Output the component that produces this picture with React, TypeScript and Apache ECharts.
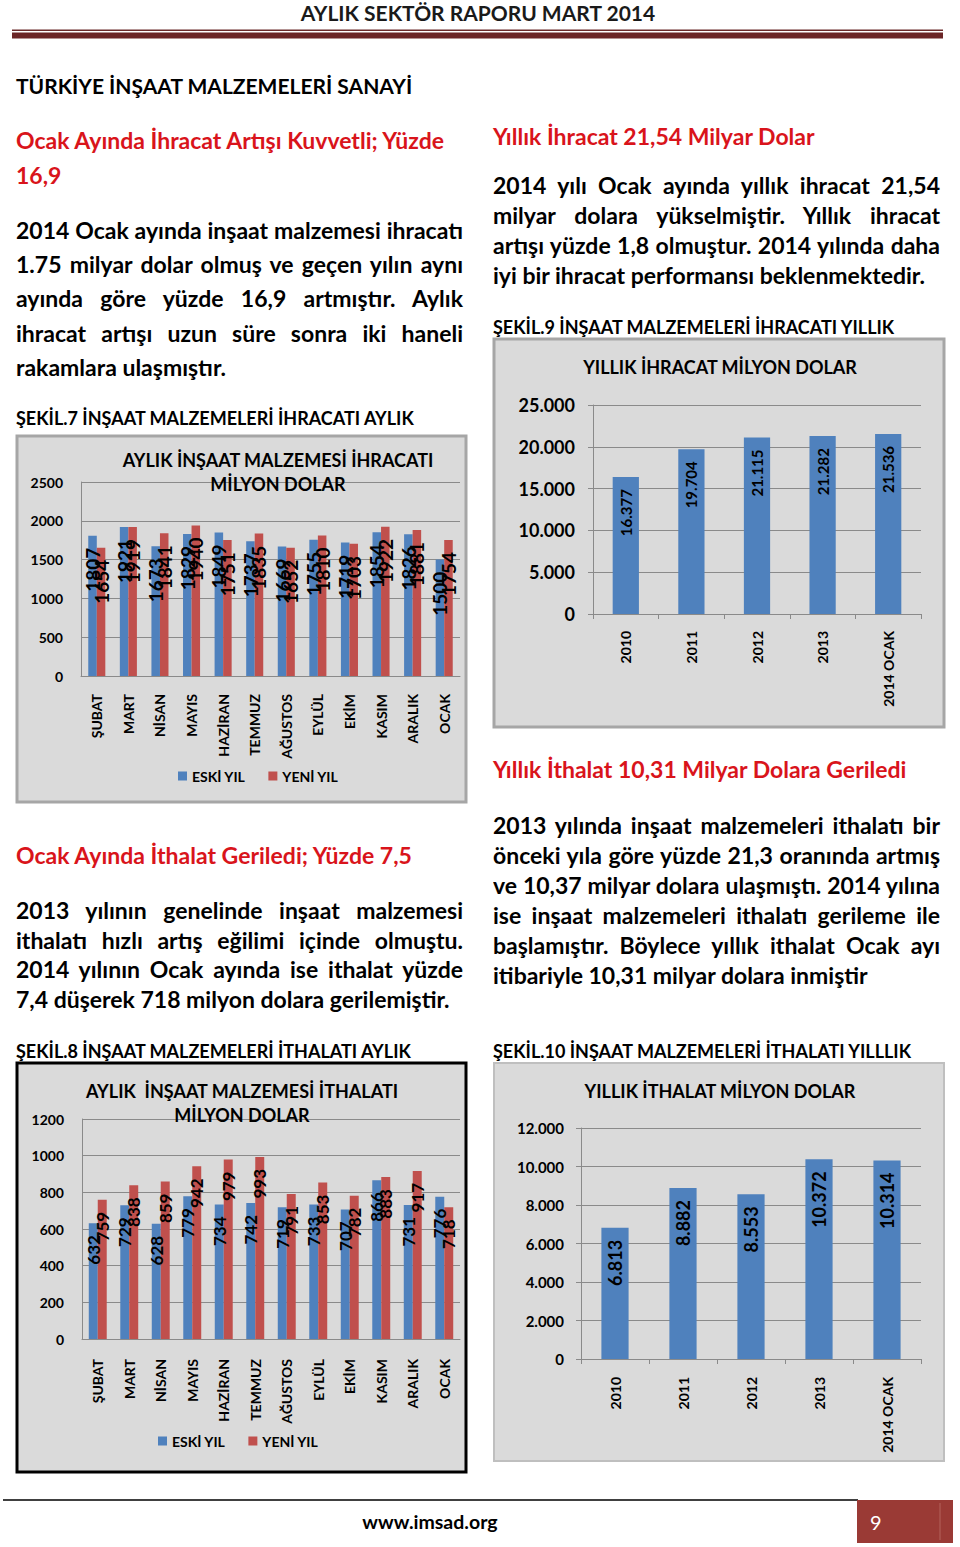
import React, { useEffect, useRef } from "react";
import * as echarts from "echarts";

// ---------- DATA ----------
const months = ["ŞUBAT", "MART", "NİSAN", "MAYIS", "HAZİRAN", "TEMMUZ", "AĞUSTOS", "EYLÜL", "EKİM", "KASIM", "ARALIK", "OCAK"];
const exportOld = [1807, 1921, 1673, 1829, 1849, 1737, 1669, 1755, 1719, 1854, 1826, 1500];
const exportNew = [1654, 1919, 1841, 1940, 1751, 1835, 1652, 1810, 1703, 1922, 1881, 1754];
const importOld = [632, 729, 628, 779, 734, 742, 719, 733, 707, 866, 731, 776];
const importNew = [759, 838, 859, 942, 979, 993, 791, 853, 782, 883, 917, 718];
const years = ["2010", "2011", "2012", "2013", "2014 OCAK"];
const annualExport = [16377, 19704, 21115, 21282, 21536];
const annualImport = [6813, 8882, 8553, 10372, 10314];
const legendNames = ["ESKİ YIL", "YENİ YIL"];

// ---------- PAGE TEXT ----------
const para1 = [
  "2014 Ocak ayında inşaat malzemesi ihracatı",
  "1.75 milyar dolar olmuş ve geçen yılın aynı",
  "ayında göre yüzde 16,9 artmıştır. Aylık",
  "ihracat artışı uzun süre sonra iki haneli",
  "rakamlara ulaşmıştır.",
];
const para2 = [
  "2014 yılı Ocak ayında yıllık ihracat 21,54",
  "milyar dolara yükselmiştir. Yıllık ihracat",
  "artışı yüzde 1,8 olmuştur. 2014 yılında daha",
  "iyi bir ihracat performansı beklenmektedir.",
];
const para3 = [
  "2013 yılının genelinde inşaat malzemesi",
  "ithalatı hızlı artış eğilimi içinde olmuştu.",
  "2014 yılının Ocak ayında ise ithalat yüzde",
  "7,4 düşerek 718 milyon dolara gerilemiştir.",
];
const para4 = [
  "2013 yılında inşaat malzemeleri ithalatı bir",
  "önceki yıla göre yüzde 21,3 oranında artmış",
  "ve 10,37 milyar dolara ulaşmıştı. 2014 yılına",
  "ise inşaat malzemeleri ithalatı gerileme ile",
  "başlamıştır. Böylece yıllık ithalat Ocak ayı",
  "itibariyle 10,31 milyar dolara inmiştir",
];

const BLUE = "#4f81bd";
const RED = "#c0504d";
const GRIDC = "#8a8a8a";
const HEAD_RED = "#d9141b";
const FONT = "Lato, sans-serif";

const fmt = (v: number) => String(v).replace(/\B(?=(\d{3})+(?!\d))/g, ".");

let measureCtx: CanvasRenderingContext2D | null = null;
const measure = (text: string, size: number, weight: number) => {
  if (!measureCtx) measureCtx = document.createElement("canvas").getContext("2d");
  if (!measureCtx) return 0;
  measureCtx.font = `${weight} ${size}px Lato`;
  return measureCtx.measureText(text).width;
};

const valueAxis = (gi: number, max: number, interval: number, fontSize: number, margin: number, ticks: boolean, dots: boolean) => ({
  type: "value",
  gridIndex: gi,
  min: 0,
  max,
  interval,
  axisLine: { show: true, lineStyle: { color: GRIDC } },
  axisTick: { show: ticks, length: 5, lineStyle: { color: GRIDC } },
  splitLine: { show: true, lineStyle: { color: GRIDC, width: 1 } },
  axisLabel: {
    fontSize,
    fontWeight: "bold",
    color: "#000",
    fontFamily: FONT,
    margin,
    formatter: dots ? (v: number) => fmt(v) : (v: number) => String(v),
  },
});

const catAxis = (gi: number, data: string[], fontSize: number, margin: number, ticks: boolean) => ({
  type: "category",
  gridIndex: gi,
  data,
  axisLine: { show: true, lineStyle: { color: GRIDC } },
  axisTick: { show: ticks, length: 5, lineStyle: { color: GRIDC } },
  axisLabel: { rotate: 90, interval: 0, fontSize, fontWeight: "bold", color: "#000", fontFamily: FONT, margin },
});

const barLabel = (fontSize: number, dots: boolean) => ({
  show: true,
  position: "insideTop",
  rotate: 90,
  align: "right",
  verticalAlign: "middle",
  distance: 12,
  fontSize,
  fontWeight: "bold",
  fontFamily: FONT,
  color: "#000",
  formatter: (p: any) => (dots ? fmt(p.value) : String(p.value)),
});

const titleText = (text: string, x: number, y: number, size = 18) => ({
  type: "text",
  x,
  y,
  z: 5,
  style: { text, align: "center", verticalAlign: "middle", fontSize: size, fontWeight: "bold", fontFamily: FONT, fill: "#000" },
});

const box = (x: number, y: number, w: number, h: number, stroke: string, lw: number) => ({
  type: "rect",
  z: -10,
  shape: { x, y, width: w, height: h },
  style: { fill: "#dadada", stroke, lineWidth: lw },
});

function buildOption() {
  const legendStyle = {
    itemWidth: 9,
    itemHeight: 9,
    itemGap: 23,
    icon: "rect",
    padding: 0,
    textStyle: { fontSize: 14, fontWeight: "bold", color: "#000", fontFamily: FONT },
  };
  return {
    animation: false,
    textStyle: { fontFamily: FONT },
    graphic: [
      { type: "rect", z: -10, shape: { x: 12, y: 29.5, width: 931, height: 1.5 }, style: { fill: "#6b2a2a" } },
      { type: "rect", z: -10, shape: { x: 12, y: 32.5, width: 931, height: 6 }, style: { fill: "#6b2526" } },
      box(17, 436, 449, 366, "#a6a6a6", 3),
      box(494, 339, 450, 388, "#a6a6a6", 3),
      box(17, 1063, 449, 409, "#000000", 3),
      box(494, 1063, 450, 398, "#bfbfbf", 2),
      titleText("AYLIK İNŞAAT MALZEMESİ İHRACATI", 278, 460),
      titleText("MİLYON DOLAR", 278, 484),
      titleText("YILLIK İHRACAT MİLYON DOLAR", 720, 367),
      titleText("AYLIK  İNŞAAT MALZEMESİ İTHALATI", 242, 1091),
      titleText("MİLYON DOLAR", 242, 1115),
      titleText("YILLIK İTHALAT MİLYON DOLAR", 720, 1091),
      { type: "line", z: -10, shape: { x1: 3, y1: 1500, x2: 858, y2: 1500 }, style: { stroke: "#000", lineWidth: 1.5 } },
      { type: "rect", z: -10, shape: { x: 857, y: 1500, width: 96, height: 43 }, style: { fill: "#9a3a35" } },
      { type: "line", z: -9, shape: { x1: 940, y1: 1503, x2: 940, y2: 1540 }, style: { stroke: "#b3625d", lineWidth: 1 } },
    ],
    legend: [
      { ...legendStyle, data: legendNames, left: 178, top: 769 },
      { ...legendStyle, data: legendNames, left: 158, top: 1434 },
    ],
    grid: [
      { left: 81, top: 482, width: 379, height: 194 },
      { left: 593, top: 405, width: 328, height: 209 },
      { left: 82, top: 1119, width: 378, height: 220 },
      { left: 581, top: 1128, width: 340, height: 231 },
    ],
    xAxis: [
      catAxis(0, months, 14, 18, false),
      catAxis(1, years, 14, 17, true),
      catAxis(2, months, 14, 20, false),
      catAxis(3, years, 14, 18, true),
    ],
    yAxis: [
      valueAxis(0, 2500, 500, 14, 18, false, false),
      valueAxis(1, 25000, 5000, 18, 18, true, true),
      valueAxis(2, 1200, 200, 14, 18, false, false),
      valueAxis(3, 12000, 2000, 15, 17, true, true),
    ],
    series: [
      {
        name: legendNames[0], type: "bar", xAxisIndex: 0, yAxisIndex: 0, data: exportOld,
        itemStyle: { color: BLUE }, barGap: "0%", barCategoryGap: "46%", label: barLabel(19, false),
      },
      {
        name: legendNames[1], type: "bar", xAxisIndex: 0, yAxisIndex: 0, data: exportNew,
        itemStyle: { color: RED }, barGap: "0%", barCategoryGap: "46%", label: barLabel(19, false),
      },
      {
        name: "YILLIK İHRACAT", type: "bar", xAxisIndex: 1, yAxisIndex: 1, data: annualExport,
        itemStyle: { color: BLUE }, barCategoryGap: "60%", label: barLabel(15, true),
      },
      {
        name: legendNames[0], type: "bar", xAxisIndex: 2, yAxisIndex: 2, data: importOld,
        itemStyle: { color: BLUE }, barGap: "0%", barCategoryGap: "43%", label: barLabel(17, false),
      },
      {
        name: legendNames[1], type: "bar", xAxisIndex: 2, yAxisIndex: 2, data: importNew,
        itemStyle: { color: RED }, barGap: "0%", barCategoryGap: "43%", label: barLabel(17, false),
      },
      {
        name: "YILLIK İTHALAT", type: "bar", xAxisIndex: 3, yAxisIndex: 3, data: annualImport,
        itemStyle: { color: BLUE }, barCategoryGap: "60%", label: barLabel(18, true),
      },
    ],
  };
}

type LineProps = { x: number; y: number; w: number; text: string; size?: number; justify?: boolean; color?: string; lh?: number; weight?: number; align?: "left" | "center" };
const Line = ({ x, y, w, text, size = 23, justify = false, color = "#000", lh = 30, weight = 700, align = "left" }: LineProps) => {
  const nat = measure(text, size, weight);
  const squeeze = nat > w - 1;
  return (
    <div
      style={{
        position: "absolute",
        left: x,
        top: y - lh / 2,
        width: squeeze ? nat + 1 : w,
        height: lh,
        lineHeight: lh + "px",
        fontSize: size,
        fontWeight: weight,
        color,
        whiteSpace: "nowrap",
        textAlign: justify ? "justify" : align,
        textAlignLast: justify ? "justify" : align,
        transform: squeeze ? `scaleX(${(w - 1) / nat})` : undefined,
        transformOrigin: "left center",
      } as React.CSSProperties}
    >
      {text}
    </div>
  );
};

const Para = ({ x, y0, step, w, lines }: { x: number; y0: number; step: number; w: number; lines: string[] }) => (
  <>
    {lines.map((t, i) => (
      <Line key={i} x={x} y={y0 + i * step} w={w} text={t} justify={i < lines.length - 1} />
    ))}
  </>
);

export default function App() {
  const ref = useRef<HTMLDivElement>(null);
  useEffect(() => {
    if (!ref.current) return;
    const chart = echarts.init(ref.current, undefined, { renderer: "svg" });
    chart.setOption(buildOption() as any);
    return () => chart.dispose();
  }, []);
  return (
    <div style={{ position: "absolute", left: 0, top: 0, width: 960, height: 1547, background: "#fff", fontFamily: FONT, overflow: "hidden" }}>
      <div ref={ref} style={{ position: "absolute", left: 0, top: 0, width: 960, height: 1547 }} />
      <div style={{ position: "absolute", left: 0, top: 0, width: 960, height: 1547, pointerEvents: "none" }}>
        <Line x={0} y={13} w={956} text="AYLIK SEKTÖR RAPORU MART 2014" size={21} align="center" color="#1a1a1a" />
        <Line x={16} y={86} w={500} text="TÜRKİYE İNŞAAT MALZEMELERİ SANAYİ" size={21} />

        <Line x={16} y={140} w={460} text="Ocak Ayında İhracat Artışı Kuvvetli; Yüzde" color={HEAD_RED} />
        <Line x={16} y={175} w={460} text="16,9" color={HEAD_RED} />
        <Para x={16} y0={230} step={34.2} w={447} lines={para1} />
        <Line x={16} y={418} w={470} text="ŞEKİL.7 İNŞAAT MALZEMELERİ İHRACATI AYLIK" size={18} />

        <Line x={16} y={855} w={460} text="Ocak Ayında İthalat Geriledi; Yüzde 7,5" color={HEAD_RED} />
        <Para x={16} y0={910} step={29.7} w={447} lines={para3} />
        <Line x={16} y={1051} w={470} text="ŞEKİL.8 İNŞAAT MALZEMELERİ İTHALATI AYLIK" size={18} />

        <Line x={493} y={136} w={460} text="Yıllık İhracat 21,54 Milyar Dolar" color={HEAD_RED} />
        <Para x={493} y0={185} step={30} w={447} lines={para2} />
        <Line x={493} y={327} w={460} text="ŞEKİL.9 İNŞAAT MALZEMELERİ İHRACATI YILLIK" size={18} />

        <Line x={493} y={769} w={460} text="Yıllık İthalat 10,31 Milyar Dolara Geriledi" color={HEAD_RED} />
        <Para x={493} y0={825} step={30} w={447} lines={para4} />
        <Line x={493} y={1051} w={460} text="ŞEKİL.10 İNŞAAT MALZEMELERİ İTHALATI YILLLIK" size={18} />

        <Line x={330} y={1522} w={200} text="www.imsad.org" size={19.5} align="center" />
        <Line x={870} y={1522} w={40} text="9" size={20} weight={400} color="#fff" />
      </div>
    </div>
  );
}
